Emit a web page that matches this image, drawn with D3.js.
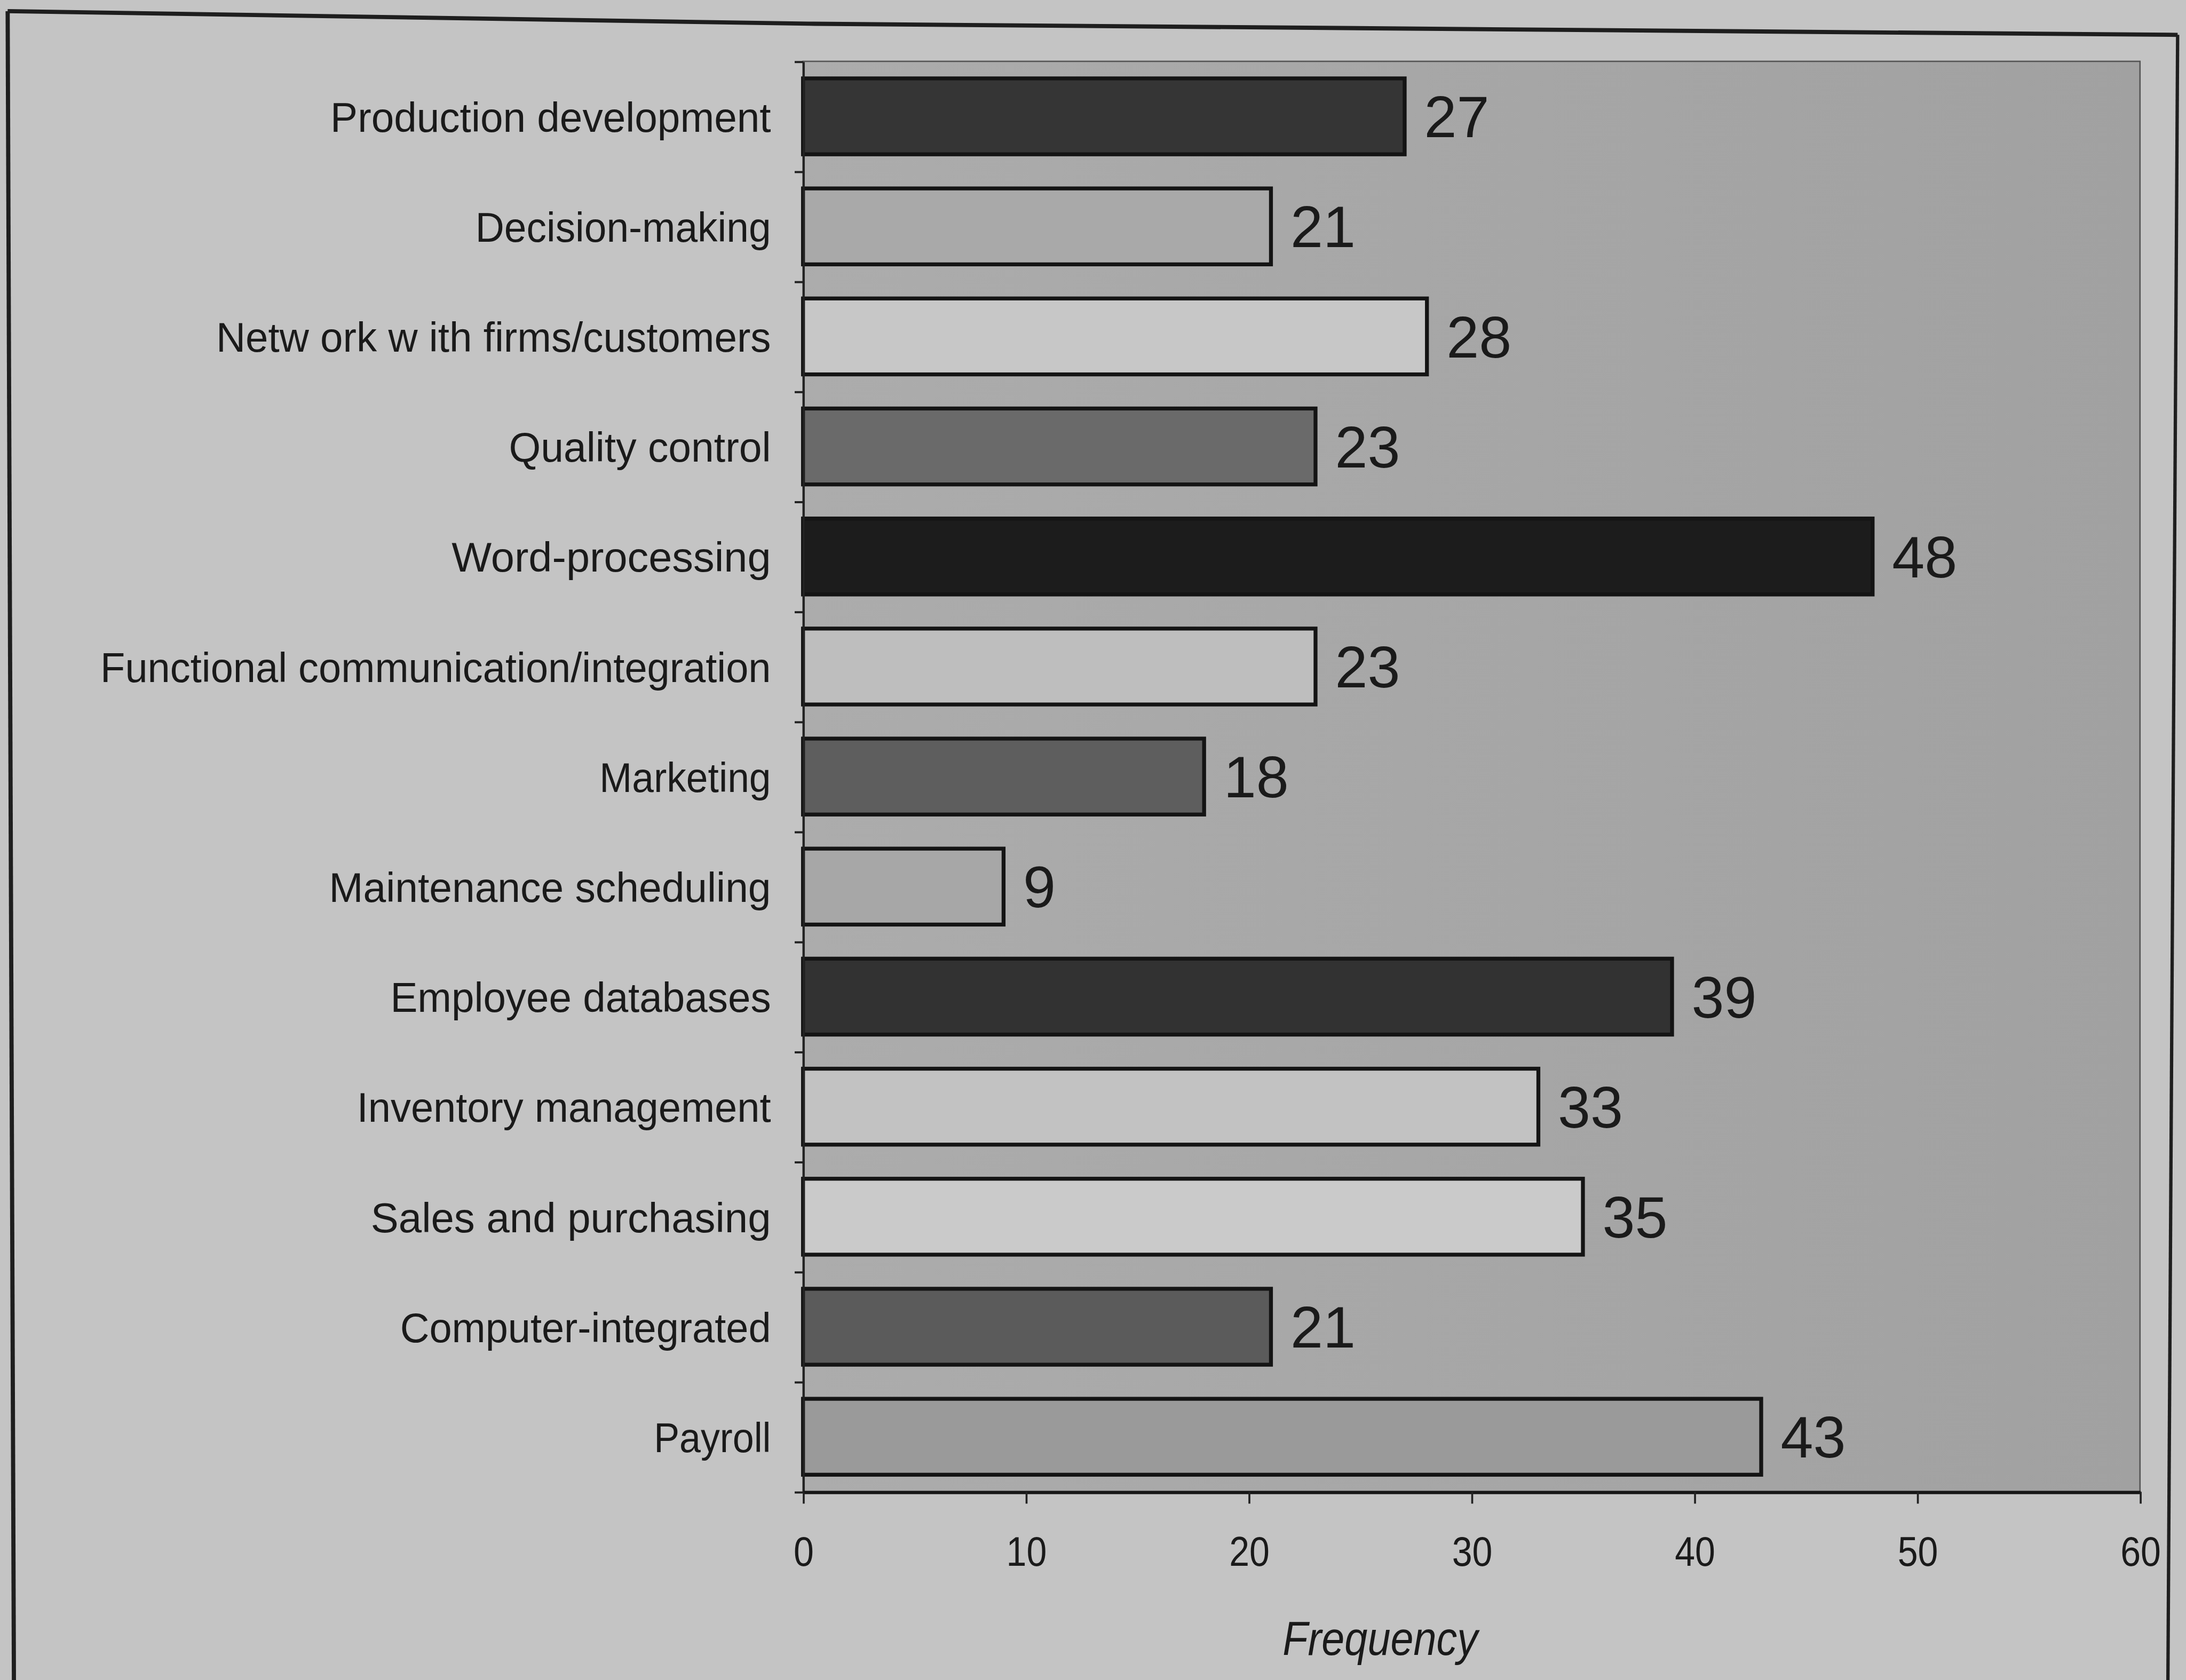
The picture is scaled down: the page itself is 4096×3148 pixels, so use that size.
<!DOCTYPE html>
<html>
<head>
<meta charset="utf-8">
<script src="https://cdn.jsdelivr.net/npm/d3@7"></script>
<style>
  html, body { margin: 0; padding: 0; background: #c4c4c4; overflow: hidden; }
  svg { display: block; }
</style>
</head>
<body>
<svg id="chart"></svg>
<script>
// Uses of the computer system, number of firms reporting each use
const categories = [
  "Production development",
  "Decision-making",
  "Netw ork w ith firms/customers",
  "Quality control",
  "Word-processing",
  "Functional communication/integration",
  "Marketing",
  "Maintenance scheduling",
  "Employee databases",
  "Inventory management",
  "Sales and purchasing",
  "Computer-integrated",
  "Payroll"
];
const frequencies = [27, 21, 28, 23, 48, 23, 18, 9, 39, 33, 35, 21, 43];
const xTickValues = [0, 10, 20, 30, 40, 50, 60];
const axisTitle = "Frequency";

// grey shade for each bar, top to bottom
const barShades = [
  "#353535", "#a9a9a9", "#c7c7c7", "#6a6a6a", "#1c1c1c", "#bebebe", "#5e5e5e",
  "#a7a7a7", "#323232", "#c2c2c2", "#cacaca", "#5b5b5b", "#9a9a9a"
];
// rendered width of each category label (condensed, letter-spaced face)
const labelWidths = [316, 212, 398, 188, 229, 481, 123, 317, 273, 297, 287, 266, 84];

// layout in a 1568 x 1205 drawing space, scaled to the window
const W = 1568, H = 1205;
const plot = { left: 576, right: 1535, top: 44, bottom: 1070 };
const font = "'Liberation Sans', Arial, Helvetica, sans-serif";
const ink = "#1a1a1a";

const svg = d3.select("#chart")
  .attr("width", 4096).attr("height", 3148)
  .attr("viewBox", `0 0 ${W} ${H}`)
  .attr("preserveAspectRatio", "none");

svg.append("rect").attr("width", W).attr("height", H).attr("fill", "#c4c4c4");

// outer frame (top edge bows slightly, bottom runs off the page)
const frame = svg.append("g").attr("fill", "none").attr("stroke", "#1e1e1e").attr("stroke-width", 3);
frame.append("path").attr("d", d3.line().curve(d3.curveMonotoneX)([[5.5, 8], [580, 17], [1562, 25]]));
frame.append("path").attr("d", d3.line()([[5.5, 8], [10, 1210]]));
frame.append("path").attr("d", d3.line()([[1562, 25], [1555, 1210]])).attr("stroke-width", 2.4);

// plot area background
const defs = svg.append("defs");
const grad = defs.append("linearGradient").attr("id", "plotBg")
  .attr("x1", "0%").attr("y1", "0%").attr("x2", "100%").attr("y2", "0%");
grad.append("stop").attr("offset", "0%").attr("stop-color", "#acacac");
grad.append("stop").attr("offset", "100%").attr("stop-color", "#a1a1a1");

svg.append("rect")
  .attr("x", plot.left).attr("y", plot.top)
  .attr("width", plot.right - plot.left).attr("height", plot.bottom - plot.top)
  .attr("fill", "url(#plotBg)")
  .attr("stroke", "#555").attr("stroke-width", 1);

// scales
const x = d3.scaleLinear().domain([0, 60]).range([plot.left, plot.right]);
const y = d3.scaleBand().domain(categories).range([plot.top, plot.bottom])
  .paddingInner(0.31).paddingOuter(0.155);
const slots = d3.scaleLinear().domain([0, categories.length]).range([plot.top, plot.bottom]);

// bars
svg.append("g").selectAll("rect")
  .data(categories)
  .join("rect")
  .attr("x", x(0))
  .attr("y", d => y(d))
  .attr("width", (d, i) => x(frequencies[i]) - x(0))
  .attr("height", y.bandwidth())
  .attr("fill", (d, i) => barShades[i])
  .attr("stroke", "#141414")
  .attr("stroke-width", 2.8);

// value labels
svg.append("g").selectAll("text")
  .data(categories)
  .join("text")
  .attr("x", (d, i) => x(frequencies[i]) + 14)
  .attr("y", d => y(d) + y.bandwidth() / 2 + 15)
  .attr("font-family", font)
  .attr("font-size", 42)
  .attr("fill", ink)
  .text((d, i) => frequencies[i]);

// category axis: ticks at slot boundaries
const yAxis = svg.append("g")
  .attr("transform", `translate(${plot.left},0)`)
  .call(d3.axisLeft(slots).tickValues(d3.range(categories.length + 1))
    .tickSize(6).tickSizeOuter(0).tickFormat(""));
yAxis.select(".domain").attr("stroke", "#222").attr("stroke-width", 1.5);
yAxis.selectAll(".tick line").attr("stroke", "#222").attr("stroke-width", 1.5);

// category labels
svg.append("g").selectAll("text")
  .data(categories)
  .join("text")
  .attr("x", 553)
  .attr("y", d => y(d) + y.bandwidth() / 2 + 11)
  .attr("text-anchor", "end")
  .attr("font-family", font)
  .attr("font-size", 30)
  .attr("fill", ink)
  .attr("textLength", (d, i) => labelWidths[i])
  .attr("lengthAdjust", "spacingAndGlyphs")
  .text(d => d);

// value axis
const xAxis = svg.append("g")
  .attr("transform", `translate(0,${plot.bottom})`)
  .call(d3.axisBottom(x).tickValues(xTickValues).tickSize(8.5).tickSizeOuter(0));
xAxis.select(".domain").attr("stroke", "#161616").attr("stroke-width", 2.4);
xAxis.selectAll(".tick line").attr("stroke", "#222").attr("stroke-width", 1.4);
xAxis.selectAll(".tick text")
  .attr("y", 53).attr("dy", 0)
  .attr("font-family", font)
  .attr("font-size", 30)
  .attr("fill", ink)
  .attr("textLength", d => String(d).length * 14.5)
  .attr("lengthAdjust", "spacingAndGlyphs");

// axis title
svg.append("text")
  .attr("x", 990).attr("y", 1187)
  .attr("text-anchor", "middle")
  .attr("font-family", font)
  .attr("font-style", "italic")
  .attr("font-size", 34)
  .attr("fill", ink)
  .attr("textLength", 140)
  .attr("lengthAdjust", "spacingAndGlyphs")
  .text(axisTitle);
</script>
</body>
</html>
